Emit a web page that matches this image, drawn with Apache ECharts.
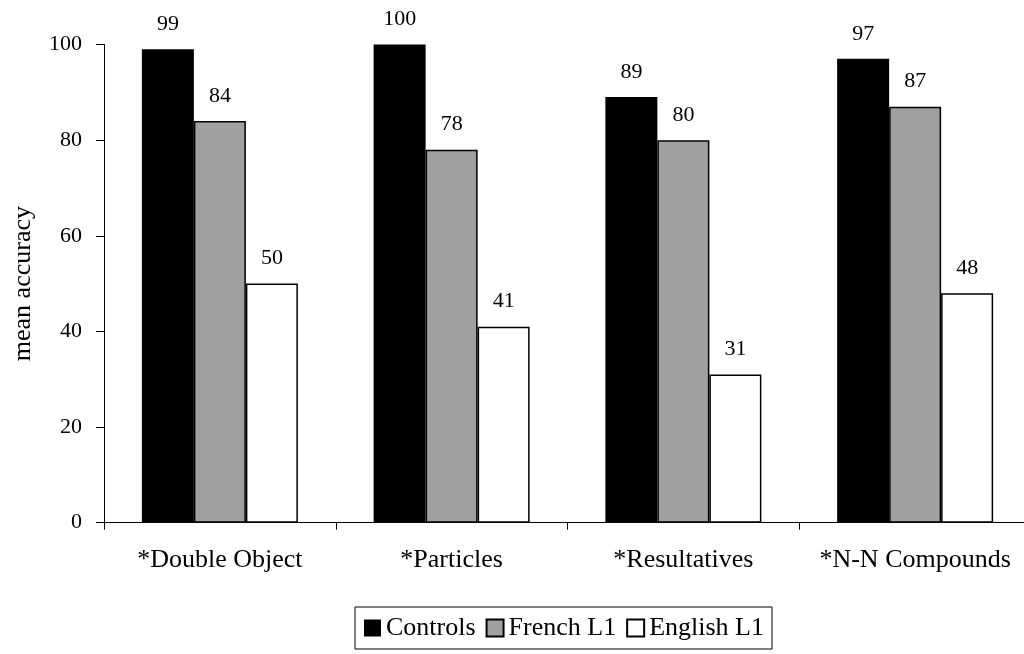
<!DOCTYPE html>
<html><head><meta charset="utf-8">
<script src="https://cdn.jsdelivr.net/npm/echarts@6/dist/echarts.min.js"></script>
<style>html,body{margin:0;padding:0;background:#fff}#c{width:1024px;height:654px}</style>
</head><body><div id="c"></div>
<script>
const categories = ['*Double Object', '*Particles', '*Resultatives', '*N-N Compounds'];
const controls = [99, 100, 89, 97];
const frenchL1 = [84, 78, 80, 87];
const englishL1 = [50, 41, 31, 48];
const yTicks = [0, 20, 40, 60, 80, 100];

const F = 'Liberation Serif, Times New Roman, serif';
const chart = echarts.init(document.getElementById('c'), null, {renderer: 'canvas'});
const lbl = {show: true, position: 'top', distance: 14, color: '#000', fontFamily: F, fontSize: 22};
function mk(name, data, color, border) {
  return {
    name, type: 'bar', data, barWidth: 52, barGap: '0%',
    itemStyle: {color, borderColor: '#000', borderWidth: border},
    label: lbl
  };
}
chart.setOption({
  animation: false,
  backgroundColor: '#fff',
  grid: {left: 104, top: 44.5, bottom: 131.3, width: 927, outerBoundsMode: 'none', containLabel: false},
  legend: {
    left: 355, top: 607,
    itemWidth: 17, itemHeight: 17, itemGap: 10, icon: 'rect',
    borderColor: '#000', borderWidth: 1, padding: [8, 8, 8, 9],
    textStyle: {fontFamily: F, fontSize: 26, color: '#000', padding: [0, 0, 0, 0]},
    data: ['Controls', 'French L1', 'English L1']
  },
  xAxis: {
    type: 'category', data: categories,
    axisLine: {lineStyle: {color: '#000', width: 1}},
    axisTick: {show: true, interval: 0, length: 7, lineStyle: {color: '#000'}},
    axisLabel: {interval: 0, fontFamily: F, fontSize: 26, color: '#000', margin: 24}
  },
  yAxis: {
    type: 'value', min: 0, max: 100, interval: 20,
    name: 'mean accuracy', nameLocation: 'middle', nameGap: 68,
    nameTextStyle: {fontFamily: F, fontSize: 26, color: '#000'},
    axisLine: {show: true, lineStyle: {color: '#000', width: 1}},
    axisTick: {show: true, length: 8, lineStyle: {color: '#000'}},
    axisLabel: {fontFamily: F, fontSize: 22, color: '#000', margin: 22,
      formatter: v => yTicks.includes(v) ? String(v) : ''},
    splitLine: {show: false}
  },
  series: [
    mk('Controls', controls, '#000', 0),
    mk('French L1', frenchL1, '#a0a0a0', 1.5),
    mk('English L1', englishL1, '#fff', 1.5)
  ]
});
</script></body></html>
